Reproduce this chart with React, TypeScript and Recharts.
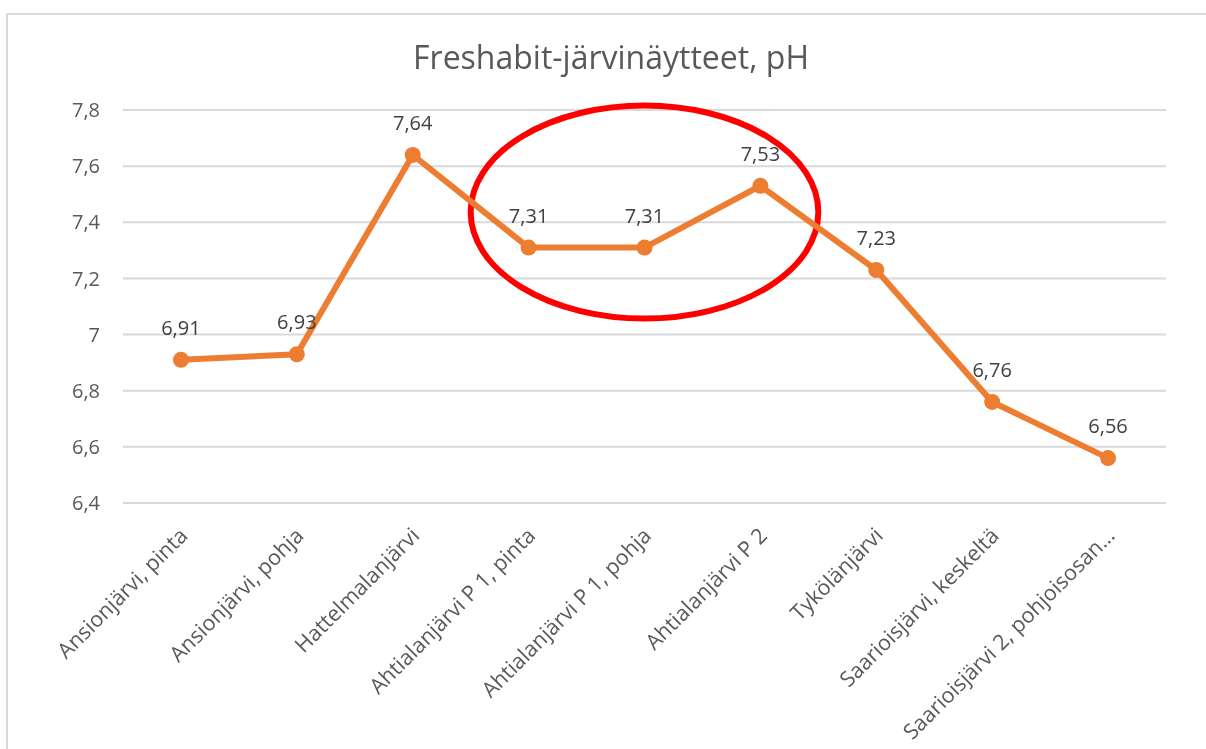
import React from 'react';
import { LineChart, Line, XAxis, YAxis, CartesianGrid, LabelList, ReferenceArea } from 'recharts';

const categories = [
  'Ansionjärvi, pinta',
  'Ansionjärvi, pohja',
  'Hattelmalanjärvi',
  'Ahtialanjärvi P 1, pinta',
  'Ahtialanjärvi P 1, pohja',
  'Ahtialanjärvi P 2',
  'Tykölänjärvi',
  'Saarioisjärvi, keskeltä',
  'Saarioisjärvi 2, pohjoisosan…',
];
const phValues = [6.91, 6.93, 7.64, 7.31, 7.31, 7.53, 7.23, 6.76, 6.56];
const yTicks = [6.4, 6.6, 6.8, 7, 7.2, 7.4, 7.6, 7.8];
const highlightCats = ['Ahtialanjärvi P 1, pinta', 'Ahtialanjärvi P 2'];
const highlightRange = [7.057, 7.816];

const data = categories.map((name, i) => ({ name, ph: phValues[i] }));

const FONT = '"Open Sans", sans-serif';
const fmt = (v: number) => String(v).replace('.', ',');

const XTick = (props: any) => {
  const { x, y, payload } = props;
  return (
    <g transform={`translate(${x + 8},${y + 34}) rotate(-45)`}>
      <text x={0} y={0} textAnchor="end" fill="#595959" fontSize={21.5} fontFamily={FONT}>
        {payload.value}
      </text>
    </g>
  );
};

const EllipseShape = (props: any) => {
  const { x, y, width, height } = props;
  return (
    <ellipse
      cx={x + width / 2}
      cy={y + height / 2}
      rx={width / 2}
      ry={height / 2}
      fill="none"
      stroke="#FF0000"
      strokeWidth={6}
    />
  );
};

export default function App() {
  return (
    <div>
      <div
        style={{
          position: 'fixed',
          left: 6,
          top: 13,
          width: 1300,
          height: 800,
          border: '2px solid #d9d9d9',
          background: '#fff',
        }}
      />
      <div
        style={{
          position: 'fixed',
          left: 0,
          top: 41,
          width: 1222,
          textAlign: 'center',
          fontFamily: FONT,
          fontSize: 32,
          lineHeight: '32px',
          color: '#595959',
        }}
      >
        Freshabit-järvinäytteet, pH
      </div>
      <div style={{ position: 'fixed', left: 8, top: 15 }}>
        <LineChart
          width={1198}
          height={734}
          data={data}
          margin={{ top: 95, right: 40, bottom: 0, left: 0 }}
        >
          <CartesianGrid vertical={false} stroke="#d9d9d9" strokeWidth={2} />
          <XAxis
            dataKey="name"
            scale="band"
            interval={0}
            height={246}
            axisLine={false}
            tickLine={false}
            tickSize={0}
            tickMargin={0}
            tick={<XTick />}
          />
          <YAxis
            domain={[6.4, 7.8]}
            ticks={yTicks}
            width={115}
            axisLine={false}
            tickLine={false}
            tickSize={0}
            tickMargin={23}
            tickFormatter={fmt}
            tick={{ fill: '#595959', fontSize: 20, fontFamily: FONT }}
          />
          <Line
            type="linear"
            dataKey="ph"
            stroke="#ED7D31"
            strokeWidth={6}
            dot={{ r: 8, fill: '#ED7D31', stroke: '#ED7D31', strokeWidth: 0 }}
            isAnimationActive={false}
          >
            <LabelList
              dataKey="ph"
              position="top"
              offset={25}
              formatter={(v: any) => fmt(v)}
              fill="#404040"
              fontSize={20}
              fontFamily={FONT}
            />
          </Line>
          <ReferenceArea
            x1={highlightCats[0]}
            x2={highlightCats[1]}
            y1={highlightRange[0]}
            y2={highlightRange[1]}
            ifOverflow="visible"
            shape={<EllipseShape />}
          />
        </LineChart>
      </div>
    </div>
  );
}
